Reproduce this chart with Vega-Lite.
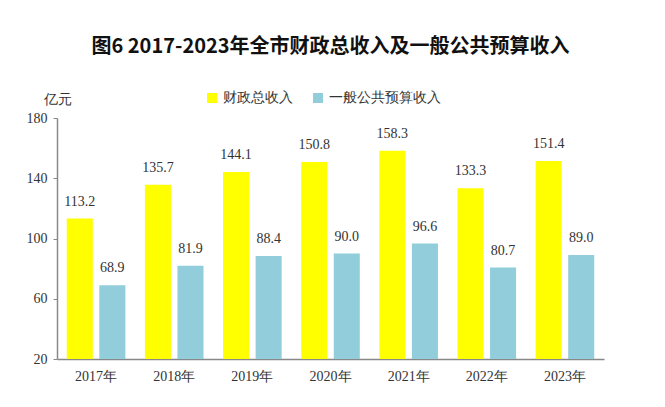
{
  "$schema": "https://vega.github.io/schema/vega-lite/v6.json",
  "width": 547,
  "height": 241,
  "autosize": {"type": "none"},
  "padding": {"left": 57, "top": 118, "right": 61, "bottom": 48},
  "background": "white",
  "title": {
    "text": "图6  2017-2023年全市财政总收入及一般公共预算收入",
    "font": "Noto Sans CJK SC",
    "fontSize": 20,
    "fontWeight": "bold",
    "color": "#111111",
    "anchor": "middle",
    "offset": 34
  },
  "data": {
    "values": [
      {"year": "2017年", "series": "财政总收入", "value": 113.2},
      {"year": "2017年", "series": "一般公共预算收入", "value": 68.9},
      {"year": "2018年", "series": "财政总收入", "value": 135.7},
      {"year": "2018年", "series": "一般公共预算收入", "value": 81.9},
      {"year": "2019年", "series": "财政总收入", "value": 144.1},
      {"year": "2019年", "series": "一般公共预算收入", "value": 88.4},
      {"year": "2020年", "series": "财政总收入", "value": 150.8},
      {"year": "2020年", "series": "一般公共预算收入", "value": 90.0},
      {"year": "2021年", "series": "财政总收入", "value": 158.3},
      {"year": "2021年", "series": "一般公共预算收入", "value": 96.6},
      {"year": "2022年", "series": "财政总收入", "value": 133.3},
      {"year": "2022年", "series": "一般公共预算收入", "value": 80.7},
      {"year": "2023年", "series": "财政总收入", "value": 151.4},
      {"year": "2023年", "series": "一般公共预算收入", "value": 89.0}
    ]
  },
  "encoding": {
    "x": {
      "field": "year", "type": "nominal",
      "scale": {"paddingInner": 0.25, "paddingOuter": 0.125},
      "axis": {
        "title": null, "labelAngle": 0, "ticks": false, "labelPadding": 10,
        "labelFont": "Liberation Serif", "labelFontSize": 14, "labelColor": "#333333",
        "domainColor": "#888888", "domainWidth": 1.5
      }
    },
    "xOffset": {
      "field": "series", "type": "nominal",
      "sort": ["财政总收入", "一般公共预算收入"],
      "scale": {"paddingInner": 0.2, "paddingOuter": 0}
    },
    "y": {
      "field": "value", "type": "quantitative",
      "scale": {"domain": [20, 180], "zero": false, "nice": false},
      "axis": {
        "values": [20, 60, 100, 140, 180], "grid": false,
        "title": "亿元", "titleAngle": 0, "titleX": 0, "titleY": -12,
        "titleAlign": "center", "titleBaseline": "bottom",
        "titleFont": "Liberation Serif", "titleFontSize": 14, "titleFontWeight": "normal", "titleColor": "#333333",
        "labelFont": "Liberation Serif", "labelFontSize": 14, "labelColor": "#333333",
        "tickSize": 4, "tickColor": "#888888", "domainColor": "#888888", "domainWidth": 1.5,
        "labelPadding": 6
      }
    }
  },
  "layer": [
    {
      "mark": {"type": "bar"},
      "encoding": {
        "y2": {"datum": 20},
        "color": {
          "field": "series", "type": "nominal",
          "sort": ["财政总收入", "一般公共预算收入"],
          "scale": {"domain": ["财政总收入", "一般公共预算收入"], "range": ["#FFFF00", "#92CDDC"]},
          "legend": {
            "title": null, "orient": "none", "direction": "horizontal",
            "legendX": 148, "legendY": -27,
            "symbolType": "square", "symbolSize": 100, "symbolStrokeWidth": 0,
            "labelFont": "Liberation Serif", "labelFontSize": 14, "labelColor": "#333333",
            "columnPadding": 18
          }
        }
      }
    },
    {
      "mark": {"type": "text", "baseline": "bottom", "dy": -10, "font": "Liberation Serif", "fontSize": 14, "color": "#333333"},
      "encoding": {
        "text": {"field": "value", "type": "quantitative", "format": ".1f"}
      }
    }
  ],
  "config": {"view": {"stroke": null}}
}
